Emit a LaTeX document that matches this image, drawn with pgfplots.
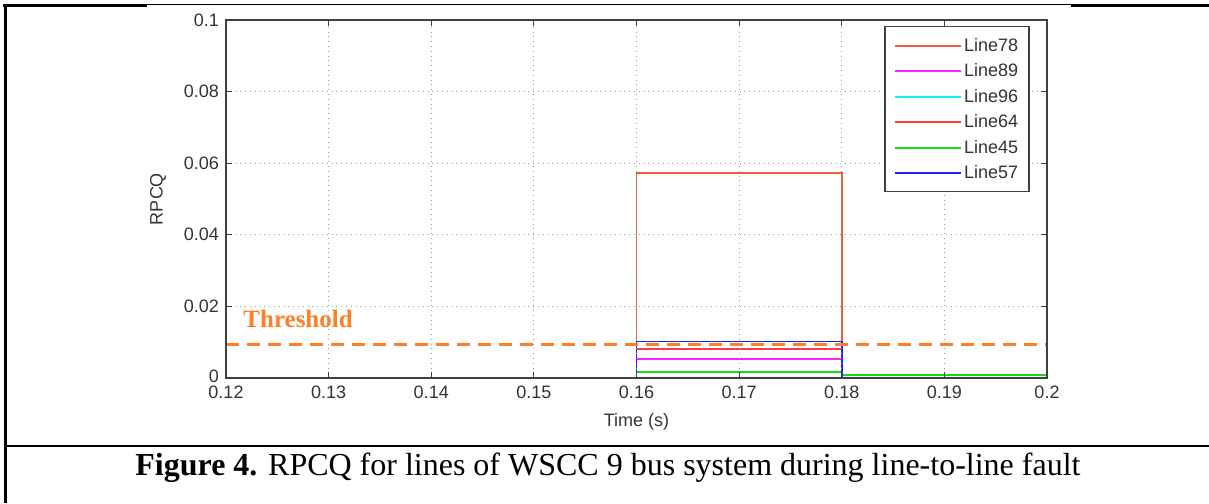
\documentclass[border=0pt]{standalone}
\usepackage{pgfplots}
\pgfplotsset{compat=1.18}
\usepackage{fontspec}
\setmainfont{Liberation Serif}
\newfontfamily\arial{Liberation Sans}
\definecolor{cA}{RGB}{240,90,60}
\definecolor{cB}{RGB}{255,30,255}
\definecolor{cC}{RGB}{20,240,240}
\definecolor{cD}{RGB}{255,60,60}
\definecolor{cE}{RGB}{20,220,20}
\definecolor{cF}{RGB}{30,30,255}
\definecolor{thr}{RGB}{255,127,39}
\pgfplotstableread{
t v
0.12 0
0.16 0
0.16 0.0573
0.18 0.0573
0.18 0
0.2 0
}\lineA
\pgfplotstableread{
t v
0.12 0
0.16 0
0.16 0.0053
0.18 0.0053
0.18 0
0.2 0
}\lineB
\pgfplotstableread{
t v
0.12 0
0.16 0
0.16 0.0102
0.18 0.0102
0.18 0
0.2 0
}\lineC
\pgfplotstableread{
t v
0.12 0
0.16 0
0.16 0.0081
0.18 0.0081
0.18 0
0.2 0
}\lineD
\pgfplotstableread{
t v
0.12 0
0.16 0
0.16 0.0016
0.18 0.0016
0.18 0.0008
0.2 0.0008
}\lineE
\pgfplotstableread{
t v
0.12 0
0.16 0
0.16 0.0102
0.18 0.0102
0.18 0
0.2 0
}\lineF
\begin{document}
\begin{tikzpicture}[x=0.5pt,y=0.5pt]
\useasboundingbox (0,0) rectangle (1209,503);
% frame
\draw[line width=1.3pt] (3,497.6) -- (147,497.6);
\draw[line width=0.5pt] (147,498.4) -- (1071,498.4);
\draw[line width=1.3pt] (1071,497.6) -- (1209,497.6);
\draw[line width=1.3pt] (5.3,499) -- (5.3,0);
\draw[line width=1.2pt] (5.3,57) -- (1209,57);
\node[anchor=base, font=\fontsize{16}{19}\selectfont, inner sep=0pt] at (608,27)
  {\textbf{Figure 4.} RPCQ for lines of WSCC 9 bus system during line-to-line fault};
\begin{axis}[
  at={(113pt,62.5pt)}, anchor=south west, scale only axis,
  width=410.5pt, height=179pt,
  xmin=0.12, xmax=0.2, ymin=0, ymax=0.1,
  xtick={0.12,0.13,0.14,0.15,0.16,0.17,0.18,0.19,0.2},
  xticklabels={0.12,0.13,0.14,0.15,0.16,0.17,0.18,0.19,0.2},
  ytick={0,0.02,0.04,0.06,0.08,0.1},
  yticklabels={\raisebox{2pt}{0},0.02,0.04,0.06,0.08,0.1},
  scaled ticks=false,
  axis on top=true,
  grid=major,
  grid style={dotted, gray!80, line width=0.6pt},
  axis line style={gray!50!black, line width=0.9pt},
  tick style={gray!50!black, line width=0.6pt},
  major tick length=3pt,
  ticklabel style={font=\arial\fontsize{9}{10}\selectfont, text=black!80},
  xticklabel style={yshift=-0.5pt},
  xlabel={Time (s)}, ylabel={RPCQ},
  label style={font=\arial\fontsize{9}{10}\selectfont, text=black!80},
  x label style={at={(axis description cs:0.5,-0.1229)}, anchor=center},
  y label style={at={(axis description cs:-0.0828,0.5)}, anchor=center},
  legend cell align=left,
  legend style={at={(0.979,0.983)}, anchor=north east, draw=gray!50!black,
    line width=0.7pt, fill=white, font=\arial\fontsize{9}{10}\selectfont,
    text=black!80, row sep=0pt, inner xsep=4.5pt, inner ysep=3pt,
    nodes={inner sep=1pt, text height=8.25pt, text depth=2.5pt}},
  legend image code/.code={\draw[#1, line width=1pt] (0pt,0pt) -- (33pt,0pt);},
]
\addplot[cA, line width=0.9pt] table[x=t,y=v] {\lineA};
\addlegendentry{Line78}
\addplot[cB, line width=0.9pt] table[x=t,y=v] {\lineB};
\addlegendentry{Line89}
\addplot[cC, line width=0.9pt] table[x=t,y=v] {\lineC};
\addlegendentry{Line96}
\addplot[cD, line width=0.9pt] table[x=t,y=v] {\lineD};
\addlegendentry{Line64}
\addplot[cE, line width=0.9pt] table[x=t,y=v] {\lineE};
\addlegendentry{Line45}
\addplot[cF, line width=0.9pt] table[x=t,y=v] {\lineF};
\addlegendentry{Line57}
\addplot[thr, line width=1.5pt, dash pattern=on 6.5pt off 4pt, forget plot]
  coordinates {(0.12,0.0093) (0.2,0.0093)};
\node[anchor=base west, font=\bfseries\fontsize{12.5}{13}\selectfont, text=thr, inner sep=0pt]
  at (axis cs:0.12166,0.01397) {Threshold};
\end{axis}
\end{tikzpicture}
\end{document}
